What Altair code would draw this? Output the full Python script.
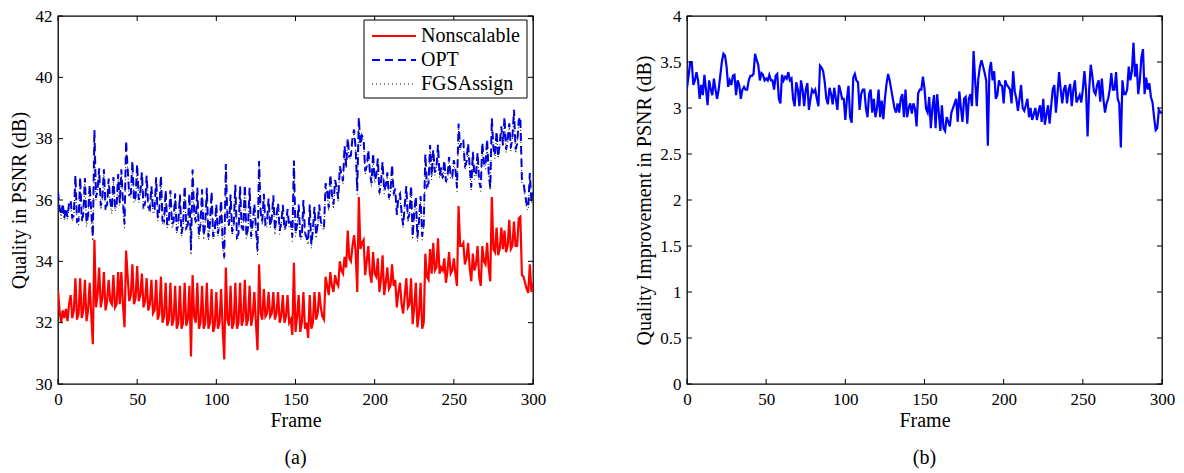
import altair as alt
import pandas as pd

# ---- data (frame 0 .. 300) ----
nonscalable = [
    33.05, 32.4, 32.0, 32.4, 32.15, 32.45, 32.05, 32.6, 32.9, 32.15,
    32.4, 33.45, 32.1, 32.3, 33.45, 32.15, 32.4, 33.4, 32.05, 32.4,
    33.3, 32.25, 31.3, 34.7, 32.5, 32.9, 33.8, 32.5, 32.8, 33.65,
    32.4, 32.7, 33.4, 32.7, 32.6, 33.55, 32.5, 32.6, 33.65, 32.6,
    33.65, 32.6, 31.85, 34.35, 33.5, 32.7, 32.9, 33.9, 32.6, 32.8,
    33.85, 32.7, 32.9, 33.6, 32.5, 32.7, 33.45, 32.4, 32.6, 33.4,
    32.3, 32.4, 33.4, 32.1, 32.3, 33.5, 32.0, 32.2, 33.3, 31.9,
    32.1, 33.3, 31.9, 32.1, 33.2, 31.8, 32.0, 33.2, 31.8, 32.0,
    33.3, 31.9, 32.1, 33.2, 30.9, 33.55, 32.2, 32.0, 33.3, 31.8,
    32.0, 33.2, 31.8, 32.0, 33.3, 31.8, 32.0, 33.1, 31.7, 31.9,
    33.0, 31.8, 32.0, 33.1, 31.8, 30.8, 33.8, 32.1, 31.9, 33.2,
    31.8, 32.0, 33.3, 31.8, 32.0, 33.3, 31.9, 32.1, 33.4, 31.9,
    32.1, 33.2, 31.9, 32.2, 33.0, 32.0, 31.1, 33.9, 32.3, 32.1,
    33.1, 32.2, 32.3, 33.0, 32.2, 32.3, 33.0, 32.1, 32.3, 33.0,
    32.0, 32.2, 32.9, 32.0, 32.2, 32.9, 32.0, 32.1, 31.6, 33.95,
    31.7, 32.2, 32.9, 31.7, 32.0, 33.0, 31.8, 32.0, 31.5, 32.9,
    31.8, 32.0, 33.0, 32.1, 32.3, 33.0, 32.5, 32.2, 32.1, 33.5,
    33.2, 32.9, 33.65, 33.2, 33.0, 33.55, 33.3, 33.2, 34.0, 33.7,
    33.6, 34.15, 33.8, 35.0, 34.1, 34.0, 34.5, 34.85, 34.3, 33.0,
    36.1, 34.4, 34.6, 34.7, 33.55, 34.0, 34.5, 33.6, 33.3, 34.3,
    33.6, 33.5, 34.1, 33.0, 33.4, 34.2, 32.9, 33.3, 33.8, 33.1,
    33.2, 33.9, 33.2, 33.4, 32.5, 33.0, 33.3, 32.6, 32.3, 32.9,
    33.45, 32.5, 32.6, 33.45, 31.95, 32.5, 33.3, 31.85, 32.3, 33.3,
    31.8, 32.0, 34.25, 33.5, 33.4, 34.4, 33.6, 34.6, 33.7, 33.8,
    34.75, 33.6, 33.8, 33.7, 34.1, 33.3, 33.7, 34.3, 33.6, 33.7,
    34.1, 33.6, 33.2, 35.8, 34.5, 34.5, 34.6, 33.9, 34.1, 34.6,
    33.8, 33.35, 34.25, 33.7, 33.9, 34.5, 33.5, 33.2, 34.5, 34.0,
    33.9, 34.6, 33.8, 33.35, 36.1, 34.4, 34.3, 35.1, 34.2, 34.4,
    35.1, 34.4, 35.0, 34.3, 34.5, 35.35, 34.4, 34.5, 35.3, 34.5,
    34.5, 35.4, 35.45, 33.55, 33.5, 33.3, 33.1, 32.97, 33.9, 33.0,
    33.3,
]

# right panel: quality improvement (OPT minus Nonscalable)
improvement = [
    3.22, 3.35, 3.5, 3.5, 3.25, 3.3, 3.39, 3.3, 3.1, 3.25,
    3.14, 3.36, 3.2, 3.03, 3.3, 3.2, 3.14, 3.32, 3.2, 3.1,
    3.2, 3.35, 3.5, 3.59, 3.57, 3.45, 3.23, 3.3, 3.25, 3.35,
    3.36, 3.14, 3.3, 3.25, 3.1, 3.2, 3.23, 3.2, 3.2, 3.3,
    3.35, 3.35, 3.37, 3.59, 3.52, 3.47, 3.3, 3.38, 3.36, 3.3,
    3.32, 3.3, 3.36, 3.3, 3.3, 3.2, 3.35, 3.37, 3.1, 3.05,
    3.36, 3.3, 3.34, 3.32, 3.39, 3.3, 3.32, 3.1, 3.02, 3.28,
    3.2, 3.02, 3.3, 3.2, 3.02, 3.2, 3.27, 2.98, 3.1, 3.2,
    3.17, 3.2, 3.1, 3.02, 3.46, 3.44, 3.4, 3.28, 3.1, 3.04,
    3.22, 3.15, 3.04, 3.22, 3.1, 2.98, 3.25, 3.18, 3.1, 3.1,
    2.87, 3.1, 3.24, 2.9, 2.84, 3.33, 3.37, 3.3, 3.28, 2.98,
    3.15, 3.2, 3.2, 3.0, 2.9, 3.15, 3.2, 2.95, 3.1, 2.9,
    3.0, 3.2, 2.9, 3.08, 2.88, 3.1, 3.26, 3.37, 3.3, 3.2,
    3.1, 3.0, 2.95, 3.05, 2.95, 3.1, 3.15, 2.9, 3.2, 2.9,
    3.0, 3.05, 2.94, 3.05, 2.99, 2.8, 3.16, 3.2, 3.2, 3.34,
    3.21, 2.99, 2.95, 3.12, 2.78, 3.0, 3.14, 2.78, 3.15, 2.95,
    2.75, 3.03, 2.78, 2.75, 2.9, 2.85, 2.8, 2.95, 3.0, 3.05,
    3.1, 2.85, 3.18, 3.0, 2.85, 3.1, 3.12, 2.83, 3.1, 3.15,
    3.02, 3.62, 3.3, 3.02, 3.32, 3.45, 3.52, 3.45, 3.38, 3.3,
    2.59, 3.4, 3.5, 3.3, 3.4, 3.1, 3.14, 3.3, 3.25, 3.24,
    3.05, 3.3, 3.25, 3.23, 3.2, 3.05, 3.4, 3.18, 3.1, 2.97,
    3.1, 3.25, 3.0, 2.97, 3.03, 3.1, 2.9, 3.0, 2.87, 2.93,
    3.0, 2.87, 2.96, 3.03, 2.85, 3.1, 2.82, 2.93, 3.03, 2.83,
    3.02, 3.2, 3.25, 2.95, 3.15, 3.39, 3.2, 3.05, 3.2, 3.25,
    3.05, 3.2, 3.26, 3.02, 3.2, 3.3, 3.06, 3.1, 3.14, 3.06,
    3.2, 3.4, 3.2, 2.69, 3.2, 3.47, 3.35, 3.18, 3.15, 3.25,
    3.3, 3.07, 3.32, 3.1, 2.95, 3.05, 3.1, 3.2, 3.38, 3.2,
    3.2, 3.39, 3.1, 3.05, 2.57, 3.3, 3.15, 3.15, 3.2, 3.45,
    3.3, 3.4, 3.71, 3.34, 3.48, 3.15, 3.3, 3.55, 3.64, 3.15,
    3.33, 3.2, 3.27, 3.12, 3.06, 2.9, 2.76, 2.78, 2.98, 2.95,
    2.95,
]

# how far FGSAssign sits below OPT (dB)
fgs_shortfall = [
    0.09, 0.06, 0.12, 0.1, 0.05, 0.11, 0.08, 0.14, 0.06, 0.1,
    0.12, 0.08, 0.1, 0.15, 0.06, 0.09, 0.11, 0.05, 0.13, 0.08,
    0.1, 0.06, 0.14, 0.18, 0.09, 0.11, 0.08, 0.12, 0.06, 0.1,
    0.12, 0.05, 0.09, 0.11, 0.15, 0.08, 0.1, 0.06, 0.13, 0.09,
    0.08, 0.11, 0.14, 0.16, 0.1, 0.06, 0.12, 0.09, 0.05, 0.11,
    0.1, 0.08, 0.13, 0.06, 0.09, 0.15, 0.07, 0.11, 0.1, 0.05,
    0.12, 0.09, 0.06, 0.11, 0.14, 0.08, 0.1, 0.12, 0.05, 0.09,
    0.11, 0.06, 0.13, 0.09, 0.07, 0.1, 0.15, 0.06, 0.09, 0.12,
    0.08, 0.1, 0.05, 0.12, 0.16, 0.09, 0.11, 0.06, 0.1, 0.13,
    0.07, 0.1, 0.14, 0.06, 0.09, 0.12, 0.05, 0.11, 0.08, 0.1,
    0.13, 0.06, 0.09, 0.11, 0.15, 0.08, 0.1, 0.12, 0.06, 0.09,
    0.11, 0.08, 0.05, 0.12, 0.1, 0.14, 0.07, 0.09, 0.11, 0.06,
    0.1, 0.13, 0.08, 0.06, 0.11, 0.09, 0.15, 0.07, 0.1, 0.12,
    0.06, 0.09, 0.12, 0.1, 0.05, 0.11, 0.08, 0.14, 0.07, 0.1,
    0.12, 0.08, 0.1, 0.06, 0.13, 0.09, 0.05, 0.11, 0.15, 0.08,
    0.1, 0.06, 0.12, 0.09, 0.07, 0.14, 0.1, 0.05, 0.11, 0.08,
    0.13, 0.1, 0.07, 0.11, 0.06, 0.09, 0.12, 0.08, 0.1, 0.05,
    0.09, 0.12, 0.06, 0.1, 0.14, 0.07, 0.11, 0.08, 0.05, 0.12,
    0.1, 0.18, 0.08, 0.11, 0.09, 0.06, 0.13, 0.1, 0.07, 0.12,
    0.15, 0.08, 0.1, 0.06, 0.12, 0.09, 0.11, 0.05, 0.13, 0.08,
    0.1, 0.06, 0.12, 0.09, 0.14, 0.07, 0.1, 0.11, 0.05, 0.09,
    0.12, 0.08, 0.1, 0.13, 0.06, 0.09, 0.11, 0.15, 0.07, 0.1,
    0.08, 0.11, 0.05, 0.12, 0.09, 0.06, 0.1, 0.14, 0.08, 0.11,
    0.13, 0.07, 0.1, 0.06, 0.12, 0.09, 0.15, 0.08, 0.1, 0.05,
    0.11, 0.09, 0.12, 0.06, 0.1, 0.08, 0.14, 0.11, 0.05, 0.09,
    0.1, 0.07, 0.13, 0.16, 0.08, 0.11, 0.06, 0.1, 0.12, 0.09,
    0.05, 0.11, 0.09, 0.13, 0.07, 0.1, 0.06, 0.12, 0.15, 0.08,
    0.1, 0.12, 0.06, 0.09, 0.18, 0.08, 0.11, 0.1, 0.05, 0.13,
    0.09, 0.07, 0.11, 0.1, 0.14, 0.06, 0.12, 0.08, 0.1, 0.13,
    0.06, 0.1, 0.09, 0.12, 0.07, 0.11, 0.15, 0.08, 0.1, 0.06,
    0.09,
]

series_names = ["Nonscalable", "OPT", "FGSAssign"]
series_colors = ["#ff0000", "#0000ff", "#000000"]
series_dash = [[1, 0], [8, 5], [1, 3]]
series_width = [2.2, 2.0, 1.0]

x_ticks = [0, 50, 100, 150, 200, 250, 300]
left_y_ticks = [30, 32, 34, 36, 38, 40, 42]
right_y_ticks = [0, 0.5, 1, 1.5, 2, 2.5, 3, 3.5, 4]

# ---- tables ----
n = min(len(nonscalable), len(improvement), len(fgs_shortfall))
frames = list(range(n))
opt = [round(nonscalable[i] + improvement[i], 3) for i in range(n)]
fgs = [round(opt[i] - fgs_shortfall[i], 3) for i in range(n)]

left_df = pd.concat([
    pd.DataFrame({"frame": frames, "psnr": nonscalable[:n], "series": "Nonscalable"}),
    pd.DataFrame({"frame": frames, "psnr": opt, "series": "OPT"}),
    pd.DataFrame({"frame": frames, "psnr": fgs, "series": "FGSAssign"}),
], ignore_index=True)
right_df = pd.DataFrame({"frame": list(range(len(improvement))), "gain": improvement})

W, H = 475, 368
TL = 5
FONT = "Liberation Serif"
LABEL_SIZE = 17
TITLE_SIZE = 20

x_axis = alt.Axis(values=x_ticks, ticks=False, domain=False, grid=False,
                  labelPadding=7, titlePadding=3, labelOverlap=False, labelFlush=False,
                  labelFont=FONT, labelFontSize=LABEL_SIZE, labelColor="black",
                  titleFont=FONT, titleFontSize=TITLE_SIZE, titleFontWeight="normal",
                  titleColor="black")


def x_enc(field="frame"):
    return alt.X(f"{field}:Q", title="Frame",
                 scale=alt.Scale(domain=[0, 300], nice=False, zero=False), axis=x_axis)


def y_enc(field, title, domain, ticks, fmt, tpad):
    return alt.Y(f"{field}:Q", title=title,
                 scale=alt.Scale(domain=domain, nice=False, zero=False),
                 axis=alt.Axis(values=ticks, format=fmt, ticks=False, domain=False, grid=False,
                               labelPadding=6, titlePadding=tpad, labelOverlap=False,
                               labelFlush=False,
                               labelFont=FONT, labelFontSize=LABEL_SIZE, labelColor="black",
                               titleFont=FONT, titleFontSize=TITLE_SIZE,
                               titleFontWeight="normal", titleColor="black"))


def tick_layers(y_field, y_title, y_domain, y_ticks, fmt, tpad):
    xt = pd.DataFrame({"frame": x_ticks})
    yt = pd.DataFrame({y_field: y_ticks})
    base_x = alt.Chart(xt).mark_rule(color="black", strokeWidth=1)
    base_y = alt.Chart(yt).mark_rule(color="black", strokeWidth=1)
    ye = y_enc(y_field, y_title, y_domain, y_ticks, fmt, tpad)
    return [
        base_x.encode(x=x_enc(), y=alt.value(H), y2=alt.value(H - TL)),
        base_x.encode(x=x_enc(), y=alt.value(0), y2=alt.value(TL)),
        base_y.encode(y=ye, x=alt.value(0), x2=alt.value(TL)),
        base_y.encode(y=ye, x=alt.value(W - TL), x2=alt.value(W)),
    ]


color_scale = alt.Scale(domain=series_names, range=series_colors)
dash_scale = alt.Scale(domain=series_names, range=series_dash)

left_y = y_enc("psnr", "Quality in PSNR (dB)", [30, 42], left_y_ticks, "d", 6)

line_layers = []
for name, sw in zip(series_names, series_width):
    line_layers.append(
        alt.Chart(left_df).transform_filter(alt.datum.series == name)
        .mark_line(strokeWidth=sw, clip=True)
        .encode(
            x=x_enc(),
            y=left_y,
            color=alt.Color("series:N", scale=color_scale, legend=None),
            strokeDash=alt.StrokeDash("series:N", scale=dash_scale, legend=None),
            order="frame:Q",
        )
    )

# ---- legend drawn in the plot's top-right corner (pixel layout) ----
LG_X0, LG_X1, LG_Y0, LG_Y1 = 306, 469, 4, 82
ROW_Y = [20, 44, 68]
SYM_X0, SYM_X1, TXT_X = 314, 358, 363
legend_layers = [
    alt.Chart(pd.DataFrame({"series": ["box"]})).mark_rect(
        fill="white", stroke="black", strokeWidth=1
    ).encode(x=alt.value(LG_X0), x2=alt.value(LG_X1), y=alt.value(LG_Y0), y2=alt.value(LG_Y1))
]
for i, name in enumerate(series_names):
    one = pd.DataFrame({"series": [name]})
    legend_layers.append(
        alt.Chart(one).mark_rule(color=series_colors[i], strokeWidth=series_width[i],
                                 strokeDash=series_dash[i])
        .encode(x=alt.value(SYM_X0), x2=alt.value(SYM_X1), y=alt.value(ROW_Y[i]))
    )
    legend_layers.append(
        alt.Chart(one).mark_text(font=FONT, fontSize=20, color="black", align="left",
                                 baseline="middle")
        .encode(x=alt.value(TXT_X), y=alt.value(ROW_Y[i]), text="series:N")
    )

left = alt.layer(
    *line_layers,
    *tick_layers("psnr", "Quality in PSNR (dB)", [30, 42], left_y_ticks, "d", 6),
    *legend_layers,
).properties(
    width=W, height=H,
    title=alt.TitleParams("(a)", orient="bottom", font=FONT, fontSize=TITLE_SIZE,
                          fontWeight="normal", color="black", offset=18, anchor="middle"),
)

right_y = y_enc("gain", "Quality Improvement in PSNR (dB)", [0, 4], right_y_ticks, "~g", 5)
right_line = alt.Chart(right_df).mark_line(color="#0000ff", strokeWidth=2.2, clip=True).encode(
    x=x_enc(), y=right_y, order="frame:Q"
)
right = alt.layer(
    right_line,
    *tick_layers("gain", "Quality Improvement in PSNR (dB)", [0, 4], right_y_ticks, "~g", 5),
).properties(
    width=W, height=H,
    title=alt.TitleParams("(b)", orient="bottom", font=FONT, fontSize=TITLE_SIZE,
                          fontWeight="normal", color="black", offset=18, anchor="middle"),
)

chart = alt.hconcat(left, right, spacing=154, bounds="flush").resolve_scale(
    color="independent", strokeDash="independent"
).properties(
    padding={"left": 0, "top": -2, "right": 0, "bottom": 0}
).configure_view(
    stroke="black", strokeWidth=1.3
)

chart.save("out.html", embed_options={"renderer": "svg", "actions": False})
